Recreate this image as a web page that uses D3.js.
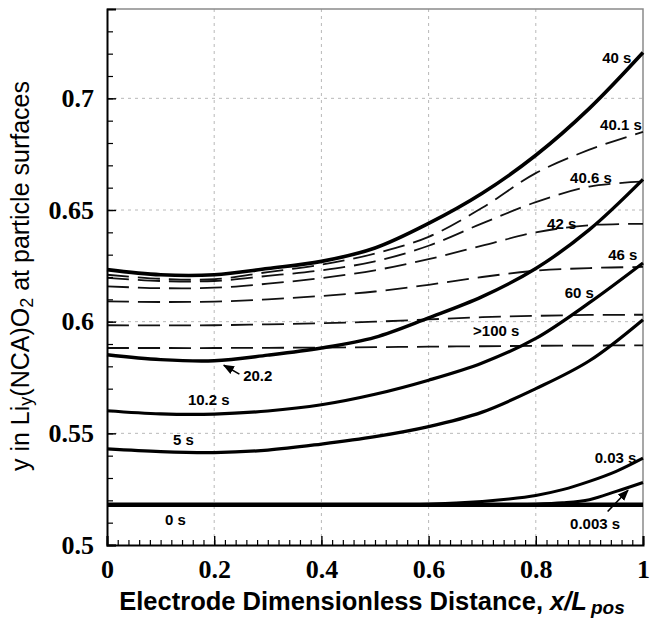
<!DOCTYPE html>
<html>
<head>
<title>Surface concentration profiles</title>
<style>
body { margin: 0; background: #fff; }
</style>
</head>
<body>
<div id="chart"></div>
<script src="https://d3js.org/d3.v7.min.js"></script>
<script>
const width = 655;
const height = 621;
const margin = { top: 9, right: 12, bottom: 76, left: 107 };

// x positions (x/L_pos)
const xPos = [0, 0.1, 0.2, 0.3, 0.4, 0.5, 0.6, 0.7, 0.8, 0.9, 1];
const xPosFine = [0, 0.5, 0.6, 0.7, 0.75, 0.8, 0.85, 0.9, 0.95, 1];

// solid curves (during pulse)
const y0s    = [0.518, 0.518, 0.518, 0.518, 0.518, 0.518, 0.518, 0.518, 0.518, 0.518, 0.518];
const y0003s = [0.518, 0.518, 0.518, 0.518, 0.5181, 0.5183, 0.5189, 0.5203, 0.5240, 0.5280];
const y003s  = [0.518, 0.518, 0.5183, 0.5195, 0.5206, 0.5222, 0.5248, 0.5285, 0.5330, 0.5389];
const y5s    = [0.5430, 0.5418, 0.5414, 0.5425, 0.5452, 0.5485, 0.5530, 0.5595, 0.5700, 0.5825, 0.6009];
const y10s   = [0.5601, 0.5587, 0.5586, 0.5600, 0.5628, 0.5675, 0.5738, 0.5815, 0.5925, 0.6085, 0.6263];
const y20s   = [0.5852, 0.5830, 0.5825, 0.5850, 0.5882, 0.5930, 0.6017, 0.6112, 0.6238, 0.6412, 0.6637];
const y40s   = [0.6233, 0.6210, 0.6210, 0.6238, 0.6270, 0.6330, 0.6440, 0.6575, 0.6745, 0.6955, 0.7205];

// dashed curves (relaxation)
const y401s  = [0.6210, 0.6192, 0.6190, 0.6222, 0.6255, 0.6305, 0.6380, 0.6510, 0.6665, 0.6770, 0.6850];
const y406s  = [0.6196, 0.6182, 0.6182, 0.6205, 0.6230, 0.6270, 0.6340, 0.6440, 0.6535, 0.6605, 0.6627];
const y42s   = [0.6158, 0.6150, 0.6152, 0.6170, 0.6195, 0.6230, 0.6280, 0.6340, 0.6400, 0.6432, 0.6438];
const y46s   = [0.6091, 0.6088, 0.6090, 0.6100, 0.6115, 0.6135, 0.6165, 0.6200, 0.6228, 0.6240, 0.6245];
const y60s   = [0.5984, 0.5983, 0.5984, 0.5988, 0.5993, 0.6000, 0.6010, 0.6020, 0.6026, 0.6030, 0.6031];
const y100s  = [0.5882, 0.5882, 0.5882, 0.5883, 0.5884, 0.5886, 0.5888, 0.5890, 0.5892, 0.5893, 0.5894];

// curve labels
const labelText = ["40 s", "40.1 s", "40.6 s", "42 s", "46 s", "60 s", ">100 s", "20.2", "10.2 s", "5 s", "0 s", "0.03 s", "0.003 s"];
const labelX    = [0.924, 0.920, 0.864, 0.821, 0.935, 0.854, 0.683, 0.254, 0.151, 0.123, 0.108, 0.910, 0.864];
const labelY    = [0.7157, 0.686, 0.6623, 0.6413, 0.6274, 0.6108, 0.5934, 0.5735, 0.5628, 0.5448, 0.509, 0.5368, 0.5072];

// axis ticks
const xTicks = [0, 0.2, 0.4, 0.6, 0.8, 1];
const yTicks = [0.5, 0.55, 0.6, 0.65, 0.7];
const xTickLabels = ["0", "0.2", "0.4", "0.6", "0.8", "1"];
const yTickLabels = ["0.5", "0.55", "0.6", "0.65", "0.7"];

const svg = d3.select("#chart").append("svg")
  .attr("width", width)
  .attr("height", height);

svg.append("rect").attr("width", width).attr("height", height).attr("fill", "#fff");

const x = d3.scaleLinear().domain([0, 1]).range([margin.left, width - margin.right]);
const y = d3.scaleLinear().domain([0.5, 0.74]).range([height - margin.bottom, margin.top]);

const x0 = x(0), x1 = x(1), yb = y(0.5), yt = y(0.74);

// grid
const grid = svg.append("g").attr("stroke", "#b8b8b8").attr("stroke-width", 1).attr("stroke-dasharray", "3,4");
xTicks.filter(d => d > 0 && d < 1).forEach(d => {
  grid.append("line").attr("x1", x(d)).attr("x2", x(d)).attr("y1", yt).attr("y2", yb);
});
yTicks.filter(d => d > 0.5).forEach(d => {
  grid.append("line").attr("x1", x0).attr("x2", x1).attr("y1", y(d)).attr("y2", y(d));
});

// top and right frame
svg.append("path")
  .attr("d", `M${x0},${yt}H${x1}V${yb}`)
  .attr("fill", "none")
  .attr("stroke", "#8a8a8a")
  .attr("stroke-width", 1.5);

// curves
const line = (xs) => d3.line()
  .x((d, i) => x(xs[i]))
  .y(d => y(d))
  .curve(d3.curveCatmullRom.alpha(0.5));

const dashed = [y401s, y406s, y42s, y46s, y60s, y100s];
dashed.forEach(s => {
  svg.append("path")
    .attr("d", line(xPos)(s))
    .attr("fill", "none")
    .attr("stroke", "#111")
    .attr("stroke-width", 1.8)
    .attr("stroke-dasharray", "22,9");
});

const solids = [
  { v: y0s, xs: xPos, w: 4.5 },
  { v: y0003s, xs: xPosFine, w: 3 },
  { v: y003s, xs: xPosFine, w: 3 },
  { v: y5s, xs: xPos, w: 3.2 },
  { v: y10s, xs: xPos, w: 3.2 },
  { v: y20s, xs: xPos, w: 3.4 },
  { v: y40s, xs: xPos, w: 3.6 }
];
solids.forEach(s => {
  svg.append("path")
    .attr("d", line(s.xs)(s.v))
    .attr("fill", "none")
    .attr("stroke", "#000")
    .attr("stroke-width", s.w);
});

// axes
const xMinor = d3.range(0, 1.0001, 0.02);
const yMinor = d3.range(0.5, 0.7401, 0.01);

svg.append("g")
  .attr("transform", `translate(0,${yb})`)
  .call(d3.axisBottom(x).tickValues(xMinor).tickSize(-5).tickFormat(""))
  .call(g => g.select(".domain").remove())
  .call(g => g.selectAll("line").attr("stroke-width", 1.2));

svg.append("g")
  .attr("transform", `translate(${x0},0)`)
  .call(d3.axisLeft(y).tickValues(yMinor).tickSize(-6).tickFormat(""))
  .call(g => g.select(".domain").remove())
  .call(g => g.selectAll("line").attr("stroke-width", 1.2));

svg.append("g")
  .attr("transform", `translate(0,${yb})`)
  .call(d3.axisBottom(x).tickValues(xTicks).tickSize(-9).tickPadding(15)
    .tickFormat((d, i) => xTickLabels[i]))
  .call(g => g.select(".domain").attr("stroke-width", 2))
  .call(g => g.selectAll("line").attr("stroke-width", 1.4))
  .call(g => g.selectAll("text")
    .attr("font-family", "Liberation Serif, serif")
    .attr("font-weight", "bold")
    .attr("font-size", 26)
    .attr("fill", "#000"));

svg.append("g")
  .attr("transform", `translate(${x0},0)`)
  .call(d3.axisLeft(y).tickValues(yTicks).tickSize(-9).tickPadding(13)
    .tickFormat((d, i) => yTickLabels[i]))
  .call(g => g.select(".domain").attr("stroke-width", 2))
  .call(g => g.selectAll("line").attr("stroke-width", 1.4))
  .call(g => g.selectAll("text")
    .attr("font-family", "Liberation Serif, serif")
    .attr("font-weight", "bold")
    .attr("font-size", 26)
    .attr("fill", "#000"));

// curve labels
svg.append("g")
  .attr("font-family", "Liberation Sans, Arial, sans-serif")
  .attr("font-weight", "bold")
  .attr("font-size", 15)
  .selectAll("text")
  .data(labelText)
  .join("text")
  .attr("x", (d, i) => x(labelX[i]))
  .attr("y", (d, i) => y(labelY[i]))
  .text(d => d);

// arrows
svg.append("defs").append("marker")
  .attr("id", "arr")
  .attr("viewBox", "0 0 10 10")
  .attr("refX", 9).attr("refY", 5)
  .attr("markerWidth", 7).attr("markerHeight", 7)
  .attr("orient", "auto")
  .append("path").attr("d", "M0,1L10,5L0,9Z").attr("fill", "#000");

const arrows = [
  { from: [0.247, 0.5765], to: [0.218, 0.5805] },
  { from: [0.934, 0.5150], to: [0.972, 0.5245] }
];
arrows.forEach(a => {
  svg.append("line")
    .attr("x1", x(a.from[0])).attr("y1", y(a.from[1]))
    .attr("x2", x(a.to[0])).attr("y2", y(a.to[1]))
    .attr("stroke", "#000")
    .attr("stroke-width", 1.6)
    .attr("marker-end", "url(#arr)");
});

// axis titles
const xt = svg.append("text")
  .attr("x", 372)
  .attr("y", 610)
  .attr("text-anchor", "middle")
  .attr("font-family", "Liberation Sans, Arial, sans-serif")
  .attr("font-weight", "bold")
  .attr("font-size", 25.5);
xt.append("tspan").text("Electrode Dimensionless Distance, ");
xt.append("tspan").attr("font-style", "italic").text("x/L");
xt.append("tspan").attr("font-style", "italic").attr("font-size", 19).attr("dx", 4).attr("dy", 4).text("pos");

const yt2 = svg.append("text")
  .attr("transform", `translate(29,276) rotate(-90)`)
  .attr("text-anchor", "middle")
  .attr("font-family", "Liberation Sans, Arial, sans-serif")
  .attr("font-size", 25);
yt2.append("tspan").text("y in Li");
yt2.append("tspan").attr("font-size", 18).attr("dy", 3).text("y");
yt2.append("tspan").attr("dy", -3).text("(NCA)O");
yt2.append("tspan").attr("font-size", 18).attr("dy", 4).text("2");
yt2.append("tspan").attr("dy", -4).text(" at particle surfaces");
</script>
</body>
</html>
